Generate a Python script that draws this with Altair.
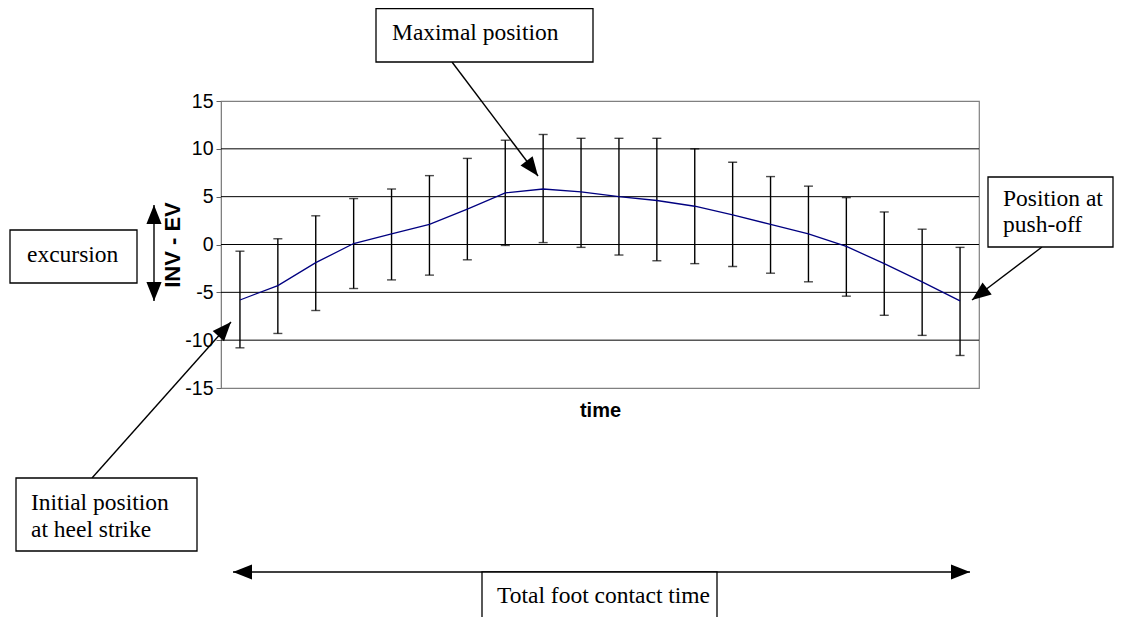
import altair as alt
import pandas as pd
import math

# ---------------- data ----------------
time_idx = list(range(1, 21))
mean_vals = [-5.8, -4.3, -1.9, 0.1, 1.1, 2.1, 3.7, 5.4, 5.8, 5.5,
             5.0, 4.6, 4.0, 3.1, 2.1, 1.1, -0.2, -2.0, -3.9, -5.9]
upper_vals = [-0.7, 0.6, 3.0, 4.8, 5.8, 7.2, 9.0, 10.9, 11.5, 11.1,
              11.1, 11.1, 10.0, 8.6, 7.1, 6.1, 4.9, 3.4, 1.6, -0.3]
lower_vals = [-10.8, -9.3, -6.9, -4.6, -3.7, -3.2, -1.6, -0.1, 0.2, -0.3,
              -1.1, -1.7, -2.0, -2.3, -3.0, -3.9, -5.4, -7.4, -9.5, -11.6]
y_ticks = [-15, -10, -5, 0, 5, 10, 15]
grid_vals = [-10, -5, 0, 5, 10]

df = pd.DataFrame({"t": time_idx, "mean": mean_vals,
                   "upper": upper_vals, "lower": lower_vals})
grid_df = pd.DataFrame({"g": grid_vals})

W, H = 758, 287
xscale = alt.Scale(domain=[0.5, 20.5], nice=False, zero=False)
yscale = alt.Scale(domain=[-15, 15], nice=False)

x_enc = alt.X("t:Q", scale=xscale,
              axis=alt.Axis(title="time", labels=False, ticks=False, domain=False,
                            grid=False, titleFont="Liberation Sans", titleFontSize=20,
                            titleFontWeight="bold", titleColor="black", titlePadding=12))
y_axis = alt.Axis(title="INV - EV", values=y_ticks, grid=False,
                  labelExpr="datum.value + ''",
                  domainColor="#808080", tickColor="#606060", tickSize=5,
                  labelFont="Liberation Sans", labelFontSize=19.5, labelColor="black",
                  labelPadding=3, titleFont="Liberation Sans", titleFontSize=22,
                  titleFontWeight="bold", titleColor="black", titlePadding=0)

grid = alt.Chart(grid_df).mark_rule(color="black", strokeWidth=1).encode(
    y=alt.Y("g:Q", scale=yscale, axis=y_axis))

bars = alt.Chart(df).mark_rule(color="black", strokeWidth=1.4).encode(
    x=x_enc, y=alt.Y("lower:Q", scale=yscale), y2="upper:Q")
cap_hi = alt.Chart(df).mark_tick(color="black", orient="horizontal", size=9,
                                 thickness=1.4).encode(
    x=alt.X("t:Q", scale=xscale), y=alt.Y("upper:Q", scale=yscale))
cap_lo = alt.Chart(df).mark_tick(color="black", orient="horizontal", size=9,
                                 thickness=1.4).encode(
    x=alt.X("t:Q", scale=xscale), y=alt.Y("lower:Q", scale=yscale))
line = alt.Chart(df).mark_line(color="#000080", strokeWidth=1.3).encode(
    x=alt.X("t:Q", scale=xscale), y=alt.Y("mean:Q", scale=yscale))

# ---------------- annotation layout (pixels relative to plot origin) ----------------
OX, OY = 221, 101


def P(x, y):
    return x - OX, y - OY


boxes = [(376, 8.5, 593, 62), (10, 230, 137, 283), (16, 478, 197, 551),
         (988, 177, 1113, 247), (482, 572, 717, 640)]
box_df = pd.DataFrame([dict(x=P(a, b)[0], y=P(a, b)[1], x2=P(c, d)[0], y2=P(c, d)[1])
                       for a, b, c, d in boxes])

texts = [("Maximal position", 392, 40), ("excursion", 27, 262),
         ("Initial position", 31, 510), ("at heel strike", 31, 537),
         ("Position at", 1003, 206), ("push-off", 1003, 232),
         ("Total foot contact time", 497, 603)]
text_df = pd.DataFrame([dict(label=s, x=P(a, b)[0], y=P(a, b)[1]) for s, a, b in texts])

arrows = [(452, 62, 538, 176, False), (92, 478, 231, 322, False),
          (1042, 247, 972, 300, False), (233, 572, 970, 572, True),
          (154, 205, 154, 301, True)]
seg_rows, head_rows = [], []
for x1, y1, x2, y2, both in arrows:
    a = P(x1, y1)
    b = P(x2, y2)
    seg_rows.append(dict(x=a[0], y=a[1], x2=b[0], y2=b[1]))
    ang = math.degrees(math.atan2(x2 - x1, -(y2 - y1))) % 360
    head_rows.append(dict(x=b[0], y=b[1], ang=ang))
    if both:
        head_rows.append(dict(x=a[0], y=a[1], ang=(ang + 180) % 360))
seg_df = pd.DataFrame(seg_rows)
head_df = pd.DataFrame(head_rows)

px = lambda f: alt.X(f, scale=None, axis=None)
py = lambda f: alt.Y(f, scale=None, axis=None)

rects = alt.Chart(box_df).mark_rect(fill="white", stroke="black", strokeWidth=1.3).encode(
    x=px("x:Q"), y=py("y:Q"), x2="x2:Q", y2="y2:Q")
segs = alt.Chart(seg_df).mark_rule(color="black", strokeWidth=1.4).encode(
    x=px("x:Q"), y=py("y:Q"), x2="x2:Q", y2="y2:Q")
heads = alt.Chart(head_df).mark_point(
    shape="M0,0 L0.8,2 L-0.8,2 Z", filled=True, color="black", opacity=1, size=360
).encode(x=px("x:Q"), y=py("y:Q"), angle=alt.Angle("ang:Q", scale=None))
labels = alt.Chart(text_df).mark_text(
    align="left", baseline="alphabetic", font="Liberation Serif", fontSize=23.5,
    color="black").encode(x=px("x:Q"), y=py("y:Q"), text="label:N")

chart = alt.layer(grid, bars, cap_hi, cap_lo, line, segs, heads, rects, labels).properties(
    width=W, height=H,
    autosize=alt.AutoSizeParams(type="none"),
    padding={"left": 213, "top": 93, "right": 137, "bottom": 229},
    background="white",
).configure_view(stroke="#808080", strokeWidth=1.2)

chart.save("out.html", embed_options={"renderer": "svg", "actions": False})
